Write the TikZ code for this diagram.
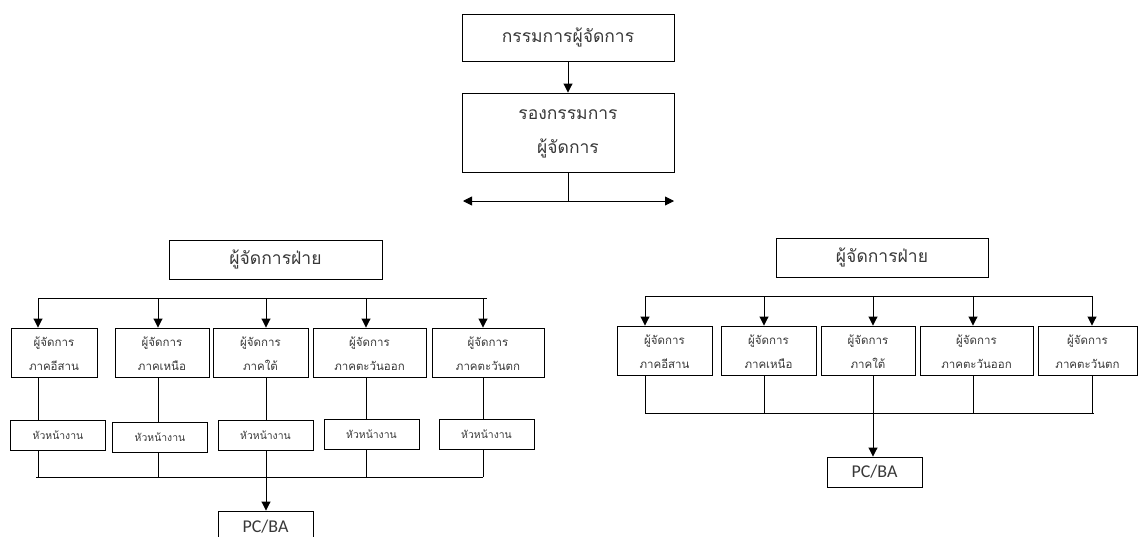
\documentclass[tikz,border=0pt]{standalone}
\usepackage{fontspec}
\setmainfont{Carlito}
\newfontfamily\thai[Script=Thai]{Loma}
\usetikzlibrary{arrows.meta}
\begin{document}
\begin{tikzpicture}[x=1pt,y=-1pt,
  box/.style={draw, line width=0.9pt, inner sep=0pt, align=center, text=black!78},
  bigtxt/.style={font=\thai\fontsize{17.5}{34}\selectfont},
  midtxt/.style={font=\thai\fontsize{11.5}{24}\selectfont},
  smalltxt/.style={font=\thai\fontsize{10.4}{12}\selectfont},
  pctxt/.style={font=\fontsize{18}{20}\selectfont},
  ln/.style={line width=0.9pt},
  arr/.style={ln, -{Triangle[length=9pt,width=9pt]}},
  dblarr/.style={ln, {Triangle[length=9pt,width=9pt]}-{Triangle[length=9pt,width=9pt]}}]
\useasboundingbox (0,0) rectangle (1141,536);
\clip (0,0) rectangle (1141,536);

% top of the hierarchy
\node[box, bigtxt, minimum width=212pt, minimum height=47pt] (md) at (568,37.5) {กรรมการผู้จัดการ};
\node[box, bigtxt, minimum width=212pt, minimum height=79pt] (vmd) at (568,132.5) {\rule{0pt}{12pt}รองกรรมการ\\ผู้จัดการ};
\draw[arr] (md) -- (vmd);
\coordinate (splitL) at (463,201);
\coordinate (splitR) at (674,201);
\draw[ln] (vmd.south) -- (vmd.south |- splitL);
\draw[dblarr] (splitL) -- (splitR);

% ---------------- left division ----------------
\node[box, bigtxt, minimum width=213pt, minimum height=39pt] (divL) at (275.5,259.5) {ผู้จัดการฝ่าย};
\coordinate (lbusA) at (38,298);
\coordinate (lbusB) at (487,298);
\draw[ln] (lbusA) -- (lbusB);
\coordinate (lbotA) at (36,477);
\coordinate (lbotB) at (483,477);
\draw[ln] (lbotA) -- (lbotB);

\foreach \n/\cx/\w/\ax/\reg/\hx/\hy in {
  1/54/86/38/ภาคอีสาน/58/435.5,
  2/162/94/158/ภาคเหนือ/160/437,
  3/260.5/95/266/ภาคใต้/265.5/435.5,
  4/369.5/113/366/ภาคตะวันออก/371.5/434,
  5/488/112/483/ภาคตะวันตก/486.5/434}{
  \node[box, midtxt, minimum width=\w pt, minimum height=49pt] (l\n) at (\cx,352.5) {\rule{0pt}{12pt}ผู้จัดการ\\\reg};
  \node[box, smalltxt, minimum width=95pt, minimum height=30pt] (lh\n) at (\hx,\hy) {หัวหน้างาน};
  \coordinate (lx\n) at (\ax,298);
  \draw[arr] (lx\n) -- (lx\n |- l\n.north);
  \draw[ln] (lx\n |- l\n.south) -- (lx\n |- lh\n.north);
  \draw[ln] (lx\n |- lh\n.south) -- (lx\n |- lbotA);
}
\node[box, pctxt, minimum width=95pt, minimum height=32pt] (pcL) at (265.5,527) {PC/BA};
\draw[arr] (lx3 |- lbotA) -- (lx3 |- pcL.north);

% ---------------- right division ----------------
\node[box, bigtxt, minimum width=212pt, minimum height=39pt] (divR) at (882,257.5) {ผู้จัดการฝ่าย};
\coordinate (rbusA) at (645,296);
\coordinate (rbusB) at (1093,296);
\draw[ln] (rbusA) -- (rbusB);
\coordinate (rbotA) at (645,413);
\coordinate (rbotB) at (1094,413);
\draw[ln] (rbotA) -- (rbotB);

\foreach \n/\cx/\w/\ax/\reg in {
  1/664.5/95/645/ภาคอีสาน,
  2/768.5/95/764/ภาคเหนือ,
  3/868/94/873/ภาคใต้,
  4/976.5/113/973/ภาคตะวันออก,
  5/1087.5/99/1092/ภาคตะวันตก}{
  \node[box, midtxt, minimum width=\w pt, minimum height=49pt] (r\n) at (\cx,350.5) {\rule{0pt}{12pt}ผู้จัดการ\\\reg};
  \coordinate (rx\n) at (\ax,296);
  \draw[arr] (rx\n) -- (rx\n |- r\n.north);
  \draw[ln] (rx\n |- r\n.south) -- (rx\n |- rbotA);
}
\node[box, pctxt, minimum width=95pt, minimum height=30pt] (pcR) at (874.5,472) {PC/BA};
\draw[arr] (rx3 |- rbotA) -- (rx3 |- pcR.north);
\end{tikzpicture}
\end{document}
